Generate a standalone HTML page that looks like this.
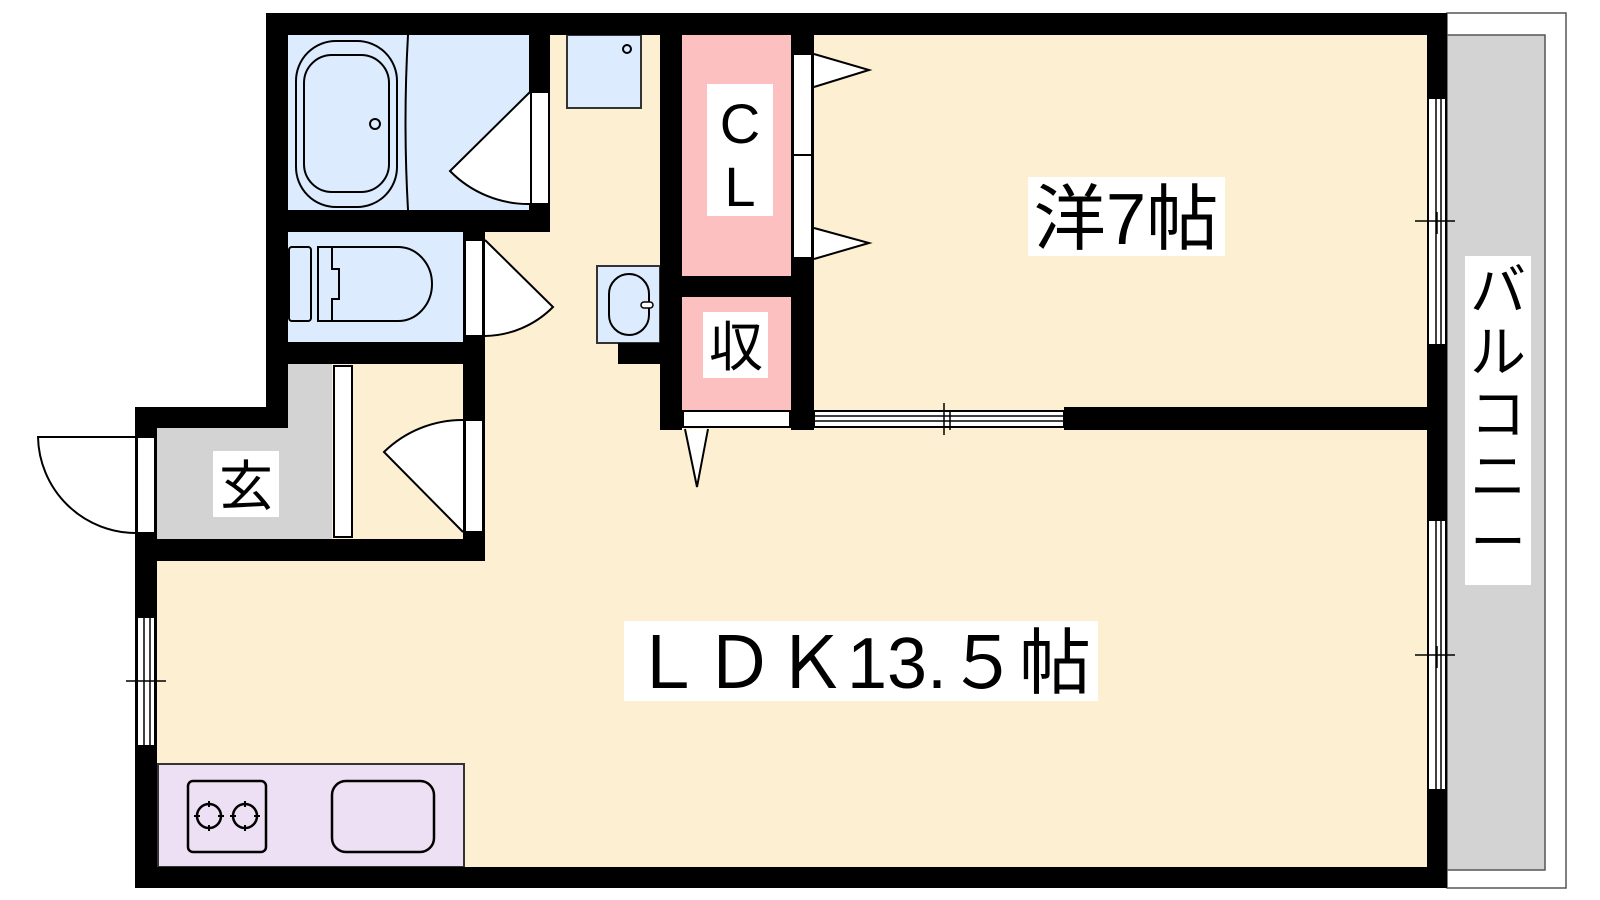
<!DOCTYPE html>
<html><head><meta charset="utf-8"><style>
html,body{margin:0;padding:0;background:#fff;width:1600px;height:900px;overflow:hidden}
svg{display:block}
text{font-family:"Liberation Sans","Noto Sans CJK JP",sans-serif;fill:#000}
</style></head><body>
<svg width="1600" height="900" viewBox="0 0 1600 900" xmlns="http://www.w3.org/2000/svg">
<!-- balcony -->
<rect x="1447" y="13" width="119" height="875" fill="#fff" stroke="#555" stroke-width="1.5"/>
<rect x="1447" y="35" width="98" height="835" fill="#d3d3d3" stroke="#555" stroke-width="1.5"/>
<!-- floors -->
<rect x="288" y="35" width="1139" height="832" fill="#fdf0d2"/>
<rect x="157" y="428" width="131" height="439" fill="#fdf0d2"/>
<rect x="288" y="35" width="241" height="175" fill="#dcebfd"/>
<rect x="288" y="232" width="175" height="110" fill="#dcebfd"/>
<rect x="157" y="428" width="175" height="111" fill="#d3d3d3"/>
<rect x="288" y="364" width="44" height="70" fill="#d3d3d3"/>
<rect x="682" y="35" width="109" height="241" fill="#fcc0c0"/>
<rect x="682" y="297" width="109" height="113" fill="#fcc0c0"/>
<!-- kitchen -->
<rect x="158" y="764" width="306" height="103" fill="#eddff4" stroke="#333" stroke-width="2"/>
<rect x="188" y="781" width="78" height="71" rx="5" fill="none" stroke="#000" stroke-width="2.5"/>
<circle cx="209" cy="816" r="12" fill="none" stroke="#000" stroke-width="2.5"/>
<circle cx="245" cy="816" r="12" fill="none" stroke="#000" stroke-width="2.5"/>
<path d="M209 801v6M209 825v6M194 816h6M218 816h6M245 801v6M245 825v6M230 816h6M254 816h6" stroke="#000" stroke-width="2"/>
<rect x="332" y="781" width="102" height="71" rx="14" fill="none" stroke="#000" stroke-width="2.5"/>
<!-- bath fixtures -->
<rect x="296" y="41" width="101" height="166" rx="40" fill="none" stroke="#000" stroke-width="2"/>
<rect x="304" y="55" width="85" height="137" rx="28" fill="none" stroke="#000" stroke-width="2"/>
<circle cx="375" cy="124" r="5" fill="none" stroke="#000" stroke-width="2"/>
<path d="M408 35 Q403 122 408 210" fill="none" stroke="#000" stroke-width="2"/>
<rect x="567" y="35" width="74" height="73" fill="#dcebfd" stroke="#333" stroke-width="2"/>
<circle cx="627" cy="49" r="4" fill="none" stroke="#000" stroke-width="2"/>
<!-- toilet -->
<rect x="289" y="247" width="22" height="74" rx="3" fill="none" stroke="#000" stroke-width="2"/>
<path d="M318 247h80a34 37 0 0 1 0 74h-80z" fill="none" stroke="#000" stroke-width="2"/>
<path d="M332 247v22h7v30h-7v22" fill="none" stroke="#000" stroke-width="2"/>
<!-- wash sink -->
<rect x="597" y="266" width="63" height="77" fill="#dcebfd" stroke="#333" stroke-width="2"/>
<rect x="609" y="274" width="40" height="61" rx="20" fill="none" stroke="#000" stroke-width="2"/>
<rect x="641" y="302" width="12" height="6" rx="3" fill="#fff" stroke="#000" stroke-width="1.5"/>
<!-- walls -->
<g fill="#000">
<rect x="266" y="13" width="1181" height="22"/>
<rect x="266" y="13" width="22" height="415"/>
<rect x="135" y="407" width="153" height="21"/>
<rect x="135" y="407" width="22" height="481"/>
<rect x="135" y="867" width="1312" height="21"/>
<rect x="1427" y="13" width="20" height="875"/>
<rect x="266" y="210" width="284" height="22"/>
<rect x="529" y="35" width="21" height="197"/>
<rect x="266" y="342" width="219" height="22"/>
<rect x="463" y="232" width="22" height="329"/>
<rect x="135" y="539" width="350" height="22"/>
<rect x="660" y="35" width="22" height="395"/>
<rect x="791" y="35" width="23" height="395"/>
<rect x="660" y="276" width="154" height="21"/>
<rect x="1064" y="407" width="363" height="23"/>
<rect x="618" y="343" width="42" height="21"/>
</g>
<!-- door panels & windows -->
<g fill="#fff" stroke="#000" stroke-width="2">
<rect x="531" y="92" width="18" height="112"/>
<rect x="465" y="240" width="18" height="96"/>
<rect x="465" y="420" width="18" height="112"/>
<rect x="334" y="366" width="18" height="171"/>
<rect x="137" y="437" width="18" height="96"/>
<rect x="793" y="54" width="19" height="101"/>
<rect x="793" y="155" width="19" height="103"/>
<rect x="683" y="411" width="107" height="16"/>
<rect x="814" y="411" width="250" height="16"/>
<rect x="1428" y="98" width="18" height="247"/>
<rect x="1428" y="520" width="18" height="270"/>
<rect x="137" y="617" width="18" height="129"/>
</g>
<g stroke="#000" stroke-width="1.5" fill="none">
<path d="M814 416h250M814 421h250M944 403v32M950 410v20"/>
<path d="M1436 98v247M1441 98v247M1415 221h40M1437 212v22"/>
<path d="M1436 520v270M1441 520v270M1415 655h40M1437 646v22"/>
<path d="M144 617v129M150 617v129M126 681h40M144 672v22"/>
</g>
<!-- door swings -->
<g fill="#fff" stroke="#000" stroke-width="2">
<path d="M530 92 L450 171 A110 110 0 0 0 530 204"/>
<path d="M485 240 L553 307 A98 98 0 0 1 485 336"/>
<path d="M463 532 L384 452 A112 112 0 0 1 463 420"/>
<path d="M814 54 L869 70 L814 87"/>
<path d="M814 228 L869 243 L814 259"/>
<path d="M685 429 L697 487 L708 429"/>
</g>
<path d="M136 437 H38 A98 98 0 0 0 136 533" fill="none" stroke="#000" stroke-width="2"/>
<!-- labels -->
<rect x="707" y="84" width="66" height="132" fill="#fff"/>
<text x="740" y="143" font-size="56" text-anchor="middle">C</text>
<text x="740" y="206" font-size="56" text-anchor="middle">L</text>
<rect x="703" y="312" width="65" height="66" fill="#fff"/>
<text x="736" y="366" font-size="54" text-anchor="middle">収</text>
<rect x="213" y="451" width="66" height="66" fill="#fff"/>
<text x="246" y="505" font-size="54" text-anchor="middle">玄</text>
<rect x="1028" y="177" width="197" height="79" fill="#fff"/>
<text x="1126" y="244" font-size="72" text-anchor="middle" textLength="185" lengthAdjust="spacingAndGlyphs">洋7帖</text>
<rect x="1465" y="256" width="66" height="329" fill="#fff"/>
<text x="1498" y="310" font-size="56" text-anchor="middle">バ</text>
<text x="1498" y="372" font-size="56" text-anchor="middle">ル</text>
<text x="1498" y="434" font-size="56" text-anchor="middle">コ</text>
<text x="1498" y="496" font-size="56" text-anchor="middle">ニ</text>
<text x="1498" y="562" font-size="56" text-anchor="middle">ー</text>
<rect x="624" y="621" width="474" height="80" fill="#fff"/>
<text x="861" y="688" font-size="72" text-anchor="middle" textLength="460" lengthAdjust="spacingAndGlyphs">ＬＤＫ13.５帖</text>
</svg>
</body></html>
